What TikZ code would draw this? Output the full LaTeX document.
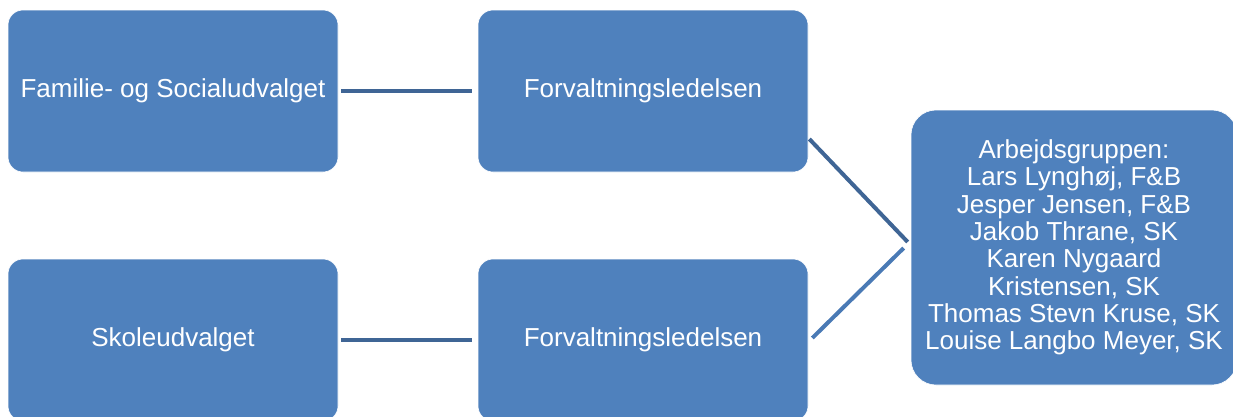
\documentclass[tikz,border=0pt]{standalone}
\usepackage{fontspec}
\setmainfont{Liberation Sans}
\usetikzlibrary{positioning}
\definecolor{boxblue}{HTML}{4F81BD}
\definecolor{linedark}{HTML}{3F6595}
\definecolor{linelight}{HTML}{4A7AB5}
\tikzset{
	unit/.style={draw=white, line width=0.6pt, fill=boxblue, rounded corners=15pt,
		minimum width=330pt, minimum height=162pt, text=white, align=center,
		font=\fontsize{26}{27.3}\selectfont, inner sep=0pt},
	link/.style={line width=4pt},
}
\begin{document}
\begin{tikzpicture}[x=1pt, y=1pt]
		\useasboundingbox (0,0) rectangle (1233,-416);
		\node[unit] (fsu) at (173,-91) {Familie- og Socialudvalget};
		\node[unit] (fl1) at (643,-91) {Forvaltningsledelsen};
		\node[unit] (sku) at (173,-340) {Skoleudvalget};
		\node[unit] (fl2) at (643,-340) {Forvaltningsledelsen};
		\node[unit, rounded corners=25pt, minimum width=326pt, minimum height=275pt] (arb) at (1074,-247.5)
			{Arbejdsgruppen:\\Lars Lynghøj, F\&B\\Jesper Jensen, F\&B\\Jakob Thrane, SK\\Karen Nygaard\\Kristensen, SK\\Thomas Stevn Kruse, SK\\Louise Langbo Meyer, SK};
		\draw[link, linedark, shorten <=3pt, shorten >=6pt] (fsu.east) -- (fl1.west);
		\draw[link, linedark, shorten <=3pt, shorten >=6pt] (sku.east) -- (fl2.west);
		\draw[link, linedark] ([shift={(1pt,-48pt)}]fl1.east) -- ([shift={(-3pt,5.5pt)}]arb.west);
		\draw[link, linelight] ([shift={(4pt,2pt)}]fl2.east) -- ([shift={(-7pt,-0.5pt)}]arb.west);
\end{tikzpicture}
\end{document}
